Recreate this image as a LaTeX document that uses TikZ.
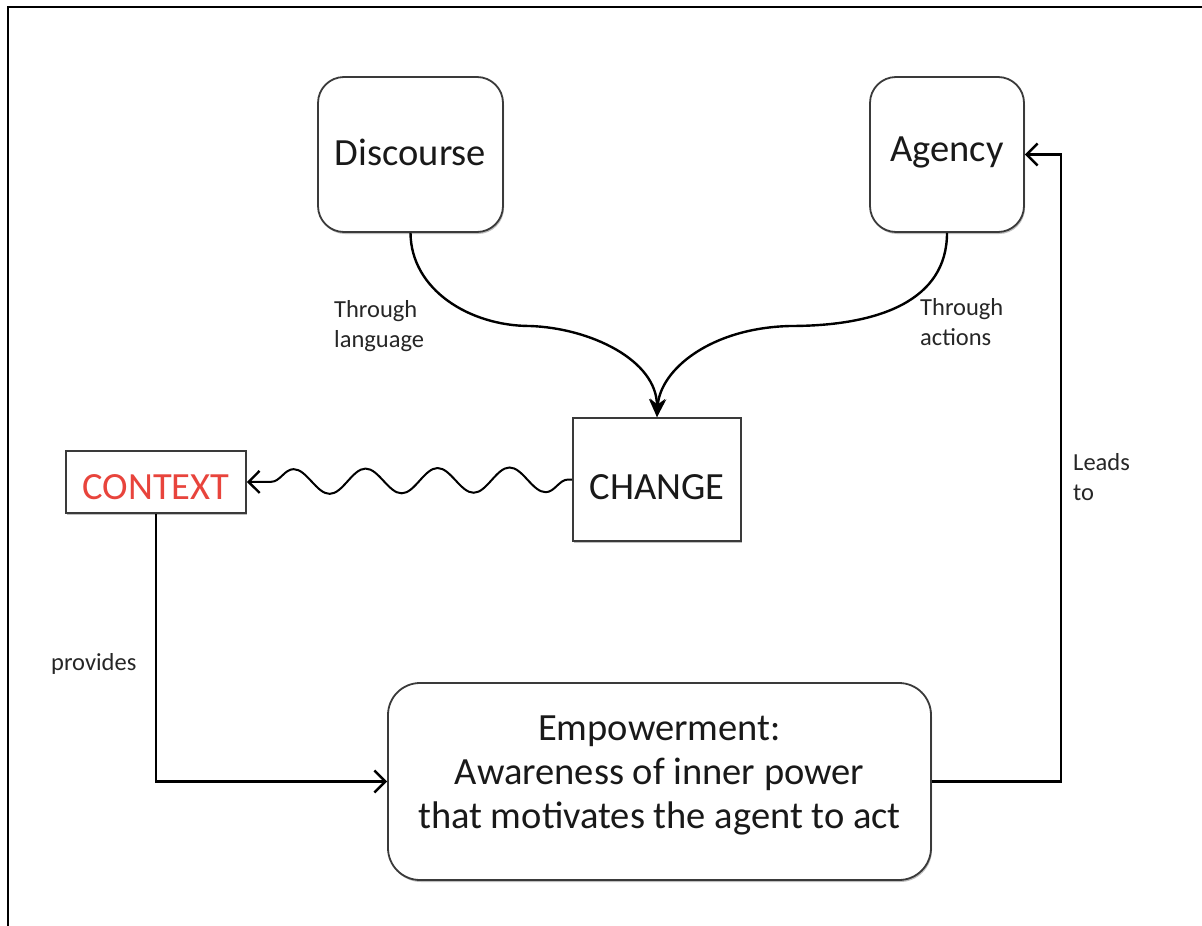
\documentclass[tikz,border=0pt]{standalone}
\usepackage{fontspec}
\setmainfont{Carlito}
\usetikzlibrary{arrows.meta,decorations.pathmorphing,shadows}
\definecolor{boxline}{HTML}{3A3A3A}
\definecolor{ctxred}{HTML}{E8443C}
\begin{document}
\begin{tikzpicture}[x=1pt,y=-1pt,
  boxbase/.style={draw=boxline, line width=1.8pt, fill=white, inner sep=0pt,
    drop shadow={shadow xshift=1pt, shadow yshift=-2pt, opacity=0.25, fill=black}},
  roundbox/.style={boxbase, rounded corners=26pt},
  squarebox/.style={boxbase},
  bigtext/.style={font=\fontsize{38.5}{44}\selectfont, text=black!90},
  smalltext/.style={font=\fontsize{24.5}{30}\selectfont, text=black!85, align=left, anchor=north west, inner sep=0pt},
  conn/.style={line width=2.4pt, black},
  openhead/.style={-{Straight Barb[length=11pt, width=22pt, line width=2.4pt]}},
  fillhead/.style={-{Stealth[length=18pt, width=16pt]}}
]
\useasboundingbox (0,0) rectangle (1202,926);
% frame (top and left edges)
\draw[line width=2pt] (1202,7) -- (8,7) -- (8,926);

% boxes, with their captions set as centred labels
\node[roundbox, minimum width=185pt, minimum height=155pt,
  label={[bigtext, yshift=2pt]center:Discourse}] (disc) at (410.5,154.5) {};
\node[roundbox, minimum width=154pt, minimum height=155pt,
  label={[bigtext, yshift=2pt]center:Agency}] (agency) at (947,154.5) {};
\node[squarebox, minimum width=168pt, minimum height=123pt,
  label={[bigtext, yshift=-7.5pt]center:CHANGE}] (change) at (657,479.5) {};
\node[squarebox, minimum width=180pt, minimum height=62pt,
  label={[bigtext, text=ctxred, yshift=-5pt]center:CONTEXT}] (context) at (156,482) {};
\node[roundbox, rounded corners=32pt, minimum width=543pt, minimum height=197pt] (emp) at (659.5,781.5) {};
\node[bigtext, align=center, inner sep=0pt] (empText) at (659.5,775) {Empowerment:\\Awareness of inner power\\that motivates the agent to act};

% curved arrows into CHANGE
\draw[conn, fillhead] (disc.south) .. controls (411,290) and (470,326) .. (530,326)
  .. controls (590,328) and (657,360) .. (change.north);
\draw[conn, fillhead] (agency.south) .. controls (947,300) and (880,326) .. (790,326)
  .. controls (710,328) and (660,370) .. (change.north);

% wavy arrow from CHANGE to CONTEXT
\draw[conn, line width=2pt, openhead, decorate,
  decoration={snake, amplitude=12.5pt, segment length=72pt, pre length=4pt, post length=10pt}]
  (change.west) -- (context.east);

% orthogonal arrows
\draw[conn, openhead] (context.south) |- (emp.west);
\coordinate (turn) at (1061,781.5);
\draw[conn, openhead] (emp.east) -- (turn) |- (agency.east);

% labels
\node[smalltext] (lblLang) at (334,300) {Through\\language};
\node[smalltext] (lblAct) at (920,298) {Through\\actions};
\node[smalltext] (lblLead) at (1073,453) {Leads\\to};
\node[smalltext] (lblProv) at (51,653) {provides};
\end{tikzpicture}
\end{document}
